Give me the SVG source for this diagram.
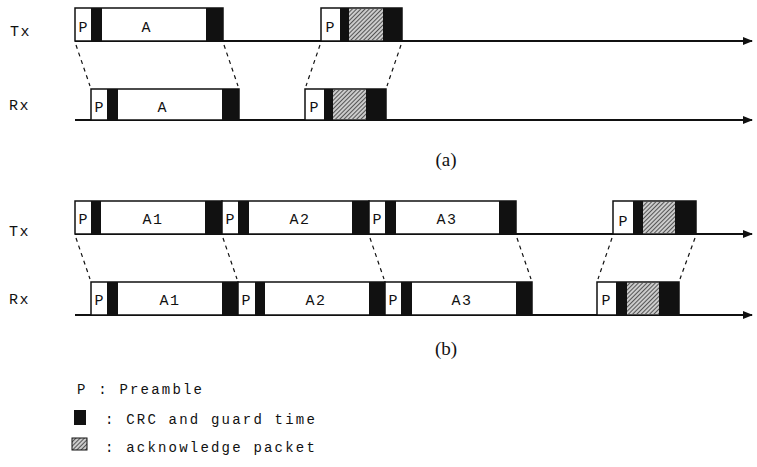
<svg xmlns="http://www.w3.org/2000/svg" width="757" height="467" viewBox="0 0 757 467">
<style>
.mono{font-family:"Liberation Mono","Courier New",monospace;fill:#111}
.lbl{font-size:15px;letter-spacing:1.5px}
.seg{font-size:15px;text-anchor:middle}
.wide{letter-spacing:1.5px}
.leg{font-size:14px;letter-spacing:2.2px}
.cap{font-family:"Liberation Serif","Times New Roman",serif;font-size:19px;text-anchor:middle;fill:#111}
.box{fill:#fff;stroke:#111;stroke-width:1.5}
.blk{fill:#111}
.hat{fill:url(#hatch);stroke:none}
.axis{stroke:#111;stroke-width:2;fill:none}
.dash{stroke:#111;stroke-width:1.2;stroke-dasharray:4 4;fill:none}
</style>
<defs>
<pattern id="hatch" patternUnits="userSpaceOnUse" width="3" height="3" patternTransform="rotate(45)">
<rect width="3" height="3" fill="#ccc"/>
<line x1="0" y1="0" x2="0" y2="3" stroke="#222" stroke-width="1.4"/>
</pattern>
<marker id="arr" markerWidth="10" markerHeight="8" refX="9" refY="4" orient="auto" markerUnits="userSpaceOnUse">
<path d="M0,0 L10,4 L0,8 Z" fill="#111"/>
</marker>
</defs>

<g id="labels">
<text class="mono lbl" x="10" y="36">Tx</text>
<text class="mono lbl" x="9" y="110">Rx</text>
<text class="mono lbl" x="9" y="236">Tx</text>
<text class="mono lbl" x="9" y="304">Rx</text>
<text class="cap" x="446" y="166">(a)</text>
<text class="cap" x="446" y="355">(b)</text>
</g>

<g id="connectors">
<line class="axis" x1="75" y1="41" x2="752" y2="41" marker-end="url(#arr)"/>
<line class="axis" x1="75" y1="120" x2="752" y2="120" marker-end="url(#arr)"/>
<line class="axis" x1="75" y1="234" x2="752" y2="234" marker-end="url(#arr)"/>
<line class="axis" x1="75" y1="315" x2="752" y2="315" marker-end="url(#arr)"/>
<line class="dash" x1="76" y1="45" x2="90" y2="86"/>
<line class="dash" x1="224" y1="45" x2="238" y2="86"/>
<line class="dash" x1="320" y1="45" x2="306" y2="86"/>
<line class="dash" x1="401" y1="45" x2="387" y2="86"/>
<line class="dash" x1="76" y1="238" x2="90" y2="279"/>
<line class="dash" x1="223" y1="238" x2="237" y2="279"/>
<line class="dash" x1="370" y1="238" x2="384" y2="279"/>
<line class="dash" x1="517" y1="238" x2="531" y2="279"/>
<line class="dash" x1="612" y1="238" x2="598" y2="279"/>
<line class="dash" x1="695" y1="238" x2="680" y2="279"/>
</g>

<g id="a-tx-A">
<rect class="box" x="75" y="8" width="148" height="33"/>
<rect class="blk" x="91" y="8" width="11" height="33"/>
<rect class="blk" x="206" y="8" width="17" height="33"/>
<text class="mono seg" x="83" y="32">P</text>
<text class="mono seg" x="146" y="32">A</text>
</g>
<g id="a-tx-ack">
<rect class="box" x="321" y="8" width="81" height="33"/>
<rect class="blk" x="340" y="8" width="9" height="33"/>
<rect class="hat" x="349" y="9" width="34" height="31"/>
<rect class="blk" x="383" y="8" width="19" height="33"/>
<text class="mono seg" x="330" y="32">P</text>
</g>
<g id="a-rx-A">
<rect class="box" x="91" y="89" width="148" height="31"/>
<rect class="blk" x="107" y="89" width="11" height="31"/>
<rect class="blk" x="222" y="89" width="17" height="31"/>
<text class="mono seg" x="99" y="112">P</text>
<text class="mono seg" x="162" y="112">A</text>
</g>
<g id="a-rx-ack">
<rect class="box" x="305" y="89" width="81" height="31"/>
<rect class="blk" x="324" y="89" width="9" height="31"/>
<rect class="hat" x="333" y="90" width="33" height="29"/>
<rect class="blk" x="366" y="89" width="20" height="31"/>
<text class="mono seg" x="314" y="112">P</text>
</g>

<g id="b-tx-A1">
<rect class="box" x="75" y="201" width="147" height="33"/>
<rect class="blk" x="91" y="201" width="10" height="33"/>
<rect class="blk" x="205" y="201" width="17" height="33"/>
<text class="mono seg" x="83" y="224">P</text>
<text class="mono seg wide" x="153" y="224">A1</text>
</g>
<g id="b-tx-A2">
<rect class="box" x="222" y="201" width="147" height="33"/>
<rect class="blk" x="238" y="201" width="11" height="33"/>
<rect class="blk" x="352" y="201" width="17" height="33"/>
<text class="mono seg" x="230" y="224">P</text>
<text class="mono seg wide" x="300" y="224">A2</text>
</g>
<g id="b-tx-A3">
<rect class="box" x="369" y="201" width="147" height="33"/>
<rect class="blk" x="385" y="201" width="11" height="33"/>
<rect class="blk" x="499" y="201" width="17" height="33"/>
<text class="mono seg" x="377" y="224">P</text>
<text class="mono seg wide" x="447" y="224">A3</text>
</g>
<g id="b-tx-ack">
<rect class="box" x="613" y="201" width="83" height="33"/>
<rect class="blk" x="633" y="201" width="10" height="33"/>
<rect class="hat" x="643" y="202" width="32" height="31"/>
<rect class="blk" x="675" y="201" width="21" height="33"/>
<text class="mono seg" x="623" y="226">P</text>
</g>
<g id="b-rx-A1">
<rect class="box" x="91" y="282" width="147" height="33"/>
<rect class="blk" x="107" y="282" width="11" height="33"/>
<rect class="blk" x="222" y="282" width="16" height="33"/>
<text class="mono seg" x="99" y="305">P</text>
<text class="mono seg wide" x="170" y="305">A1</text>
</g>
<g id="b-rx-A2">
<rect class="box" x="238" y="282" width="147" height="33"/>
<rect class="blk" x="255" y="282" width="10" height="33"/>
<rect class="blk" x="369" y="282" width="16" height="33"/>
<text class="mono seg" x="246" y="305">P</text>
<text class="mono seg wide" x="316" y="305">A2</text>
</g>
<g id="b-rx-A3">
<rect class="box" x="385" y="282" width="147" height="33"/>
<rect class="blk" x="401" y="282" width="11" height="33"/>
<rect class="blk" x="516" y="282" width="16" height="33"/>
<text class="mono seg" x="393" y="305">P</text>
<text class="mono seg wide" x="462" y="305">A3</text>
</g>
<g id="b-rx-ack">
<rect class="box" x="597" y="282" width="82" height="33"/>
<rect class="blk" x="616" y="282" width="11" height="33"/>
<rect class="hat" x="627" y="283" width="32" height="31"/>
<rect class="blk" x="659" y="282" width="20" height="33"/>
<text class="mono seg" x="606" y="305">P</text>
</g>

<g id="legend">
<text class="mono leg" x="77" y="394">P : Preamble</text>
<rect class="blk" x="74" y="410" width="12" height="15"/>
<text class="mono leg" x="105" y="424">: CRC and guard time</text>
<rect class="hat" x="72" y="438" width="15" height="12"/>
<rect x="72" y="438" width="15" height="12" fill="none" stroke="#111" stroke-width="1"/>
<text class="mono leg" x="105" y="452">: acknowledge packet</text>
</g>
</svg>
